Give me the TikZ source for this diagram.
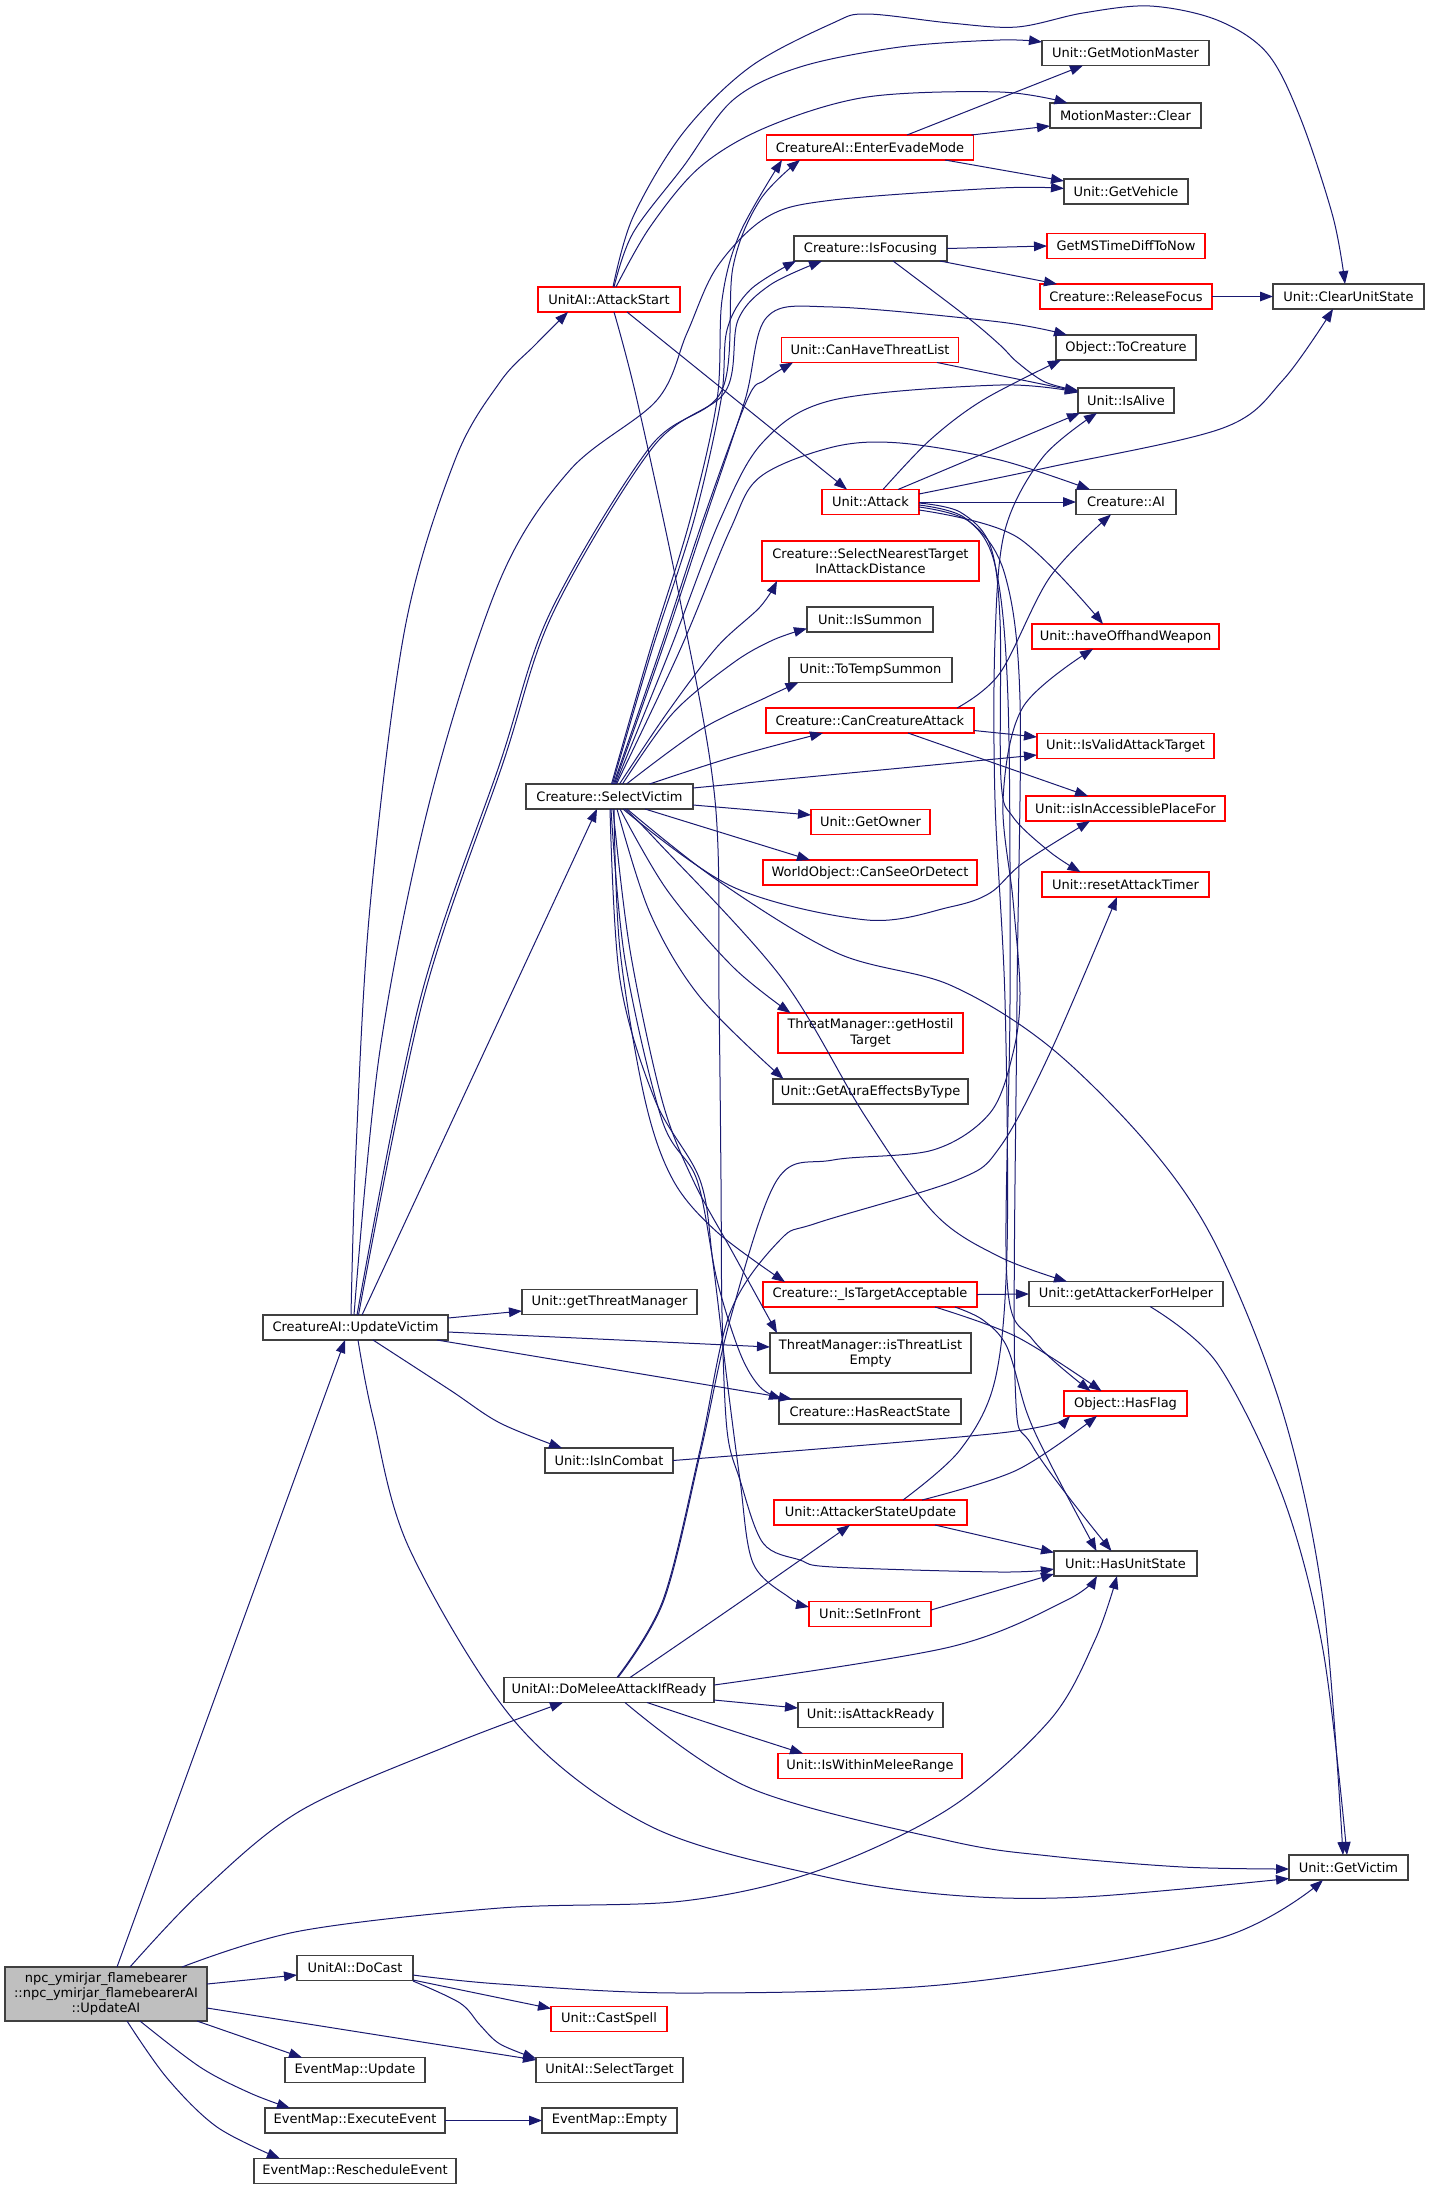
\documentclass[tikz,border=0pt]{standalone}
\usepackage{fontspec}
\setmainfont{DejaVu Sans}
\usetikzlibrary{arrows.meta,calc}
\definecolor{edgecol}{HTML}{191970}
\definecolor{redb}{HTML}{FF0000}
\definecolor{blkb}{HTML}{404040}
\definecolor{grayfill}{HTML}{BFBFBF}
\newcommand\fs{\fontsize{6.5pt}{7.6pt}\selectfont}
\begin{document}
\begin{tikzpicture}[x=0.5pt,y=-0.5pt,
  box/.style={draw=blkb, line width=0.55pt, fill=white, inner sep=0pt, outer sep=0pt,
    minimum height=12.5pt, font=\fs, align=center},
  rbox/.style={box, draw=redb},
  two/.style={minimum height=20pt},
  edge/.style={draw=edgecol, line width=0.5pt, -{Triangle[length=6.5pt,width=4.8pt]}},
  sm/.style={smooth, tension=0.55}]
\useasboundingbox (0,0) rectangle (1429,2190);
% rank 0
\node[box, fill=grayfill, minimum width=101pt, minimum height=27pt] (UAI) at (106,1994) {npc\_ymirjar\_flamebearer\\::npc\_ymirjar\_flamebearerAI\\::UpdateAI};
% rank 1
\node[box, minimum width=92.5pt] (UV) at (355.5,1327.5) {CreatureAI::UpdateVictim};
\node[box, minimum width=58pt] (DC) at (355,1968) {UnitAI::DoCast};
\node[box, minimum width=70pt] (EU) at (355,2070) {EventMap::Update};
\node[box, minimum width=90pt] (EE) at (355,2120.5) {EventMap::ExecuteEvent};
\node[box, minimum width=101pt] (ER) at (355,2171) {EventMap::RescheduleEvent};
% rank 2
\node[rbox, minimum width=71pt] (AS) at (609,299.5) {UnitAI::AttackStart};
\node[box, minimum width=83.5pt] (SV) at (609.5,796.5) {Creature::SelectVictim};
\node[box, minimum width=87.5pt] (GTM) at (609.5,1302) {Unit::getThreatManager};
\node[box, minimum width=64pt] (IIC) at (609,1460.5) {Unit::IsInCombat};
\node[box, minimum width=105pt] (DM) at (609,1690) {UnitAI::DoMeleeAttackIfReady};
\node[rbox, minimum width=58pt] (CS) at (609,2019) {Unit::CastSpell};
\node[box, minimum width=73.5pt] (ST) at (609.5,2070) {UnitAI::SelectTarget};
\node[box, minimum width=67.5pt] (EM) at (609.5,2120.5) {EventMap::Empty};
% rank 3
\node[rbox, minimum width=103.5pt] (EEM) at (870,147.5) {CreatureAI::EnterEvadeMode};
\node[box, minimum width=76.5pt] (IF) at (870.5,248.5) {Creature::IsFocusing};
\node[rbox, minimum width=88.5pt] (CHT) at (870,350) {Unit::CanHaveThreatList};
\node[rbox, minimum width=48.5pt] (AT) at (870.5,502) {Unit::Attack};
\node[rbox, two, minimum width=108.5pt] (SNT) at (870.5,561) {Creature::SelectNearestTarget\\InAttackDistance};
\node[box, minimum width=63pt] (ISm) at (870,619.5) {Unit::IsSummon};
\node[box, minimum width=81.5pt] (TTS) at (870.5,670) {Unit::ToTempSummon};
\node[rbox, minimum width=104pt] (CCA) at (870,720.5) {Creature::CanCreatureAttack};
\node[rbox, minimum width=59.5pt] (GO) at (870.5,822) {Unit::GetOwner};
\node[rbox, minimum width=107pt] (CSD) at (870,872.5) {WorldObject::CanSeeOrDetect};
\node[rbox, two, minimum width=92.5pt] (GHT) at (870.5,1033) {ThreatManager::getHostil\\Target};
\node[box, minimum width=97.5pt] (GAE) at (870.5,1091.5) {Unit::GetAuraEffectsByType};
\node[rbox, minimum width=107pt] (ITA) at (870,1294.5) {Creature::\_IsTargetAcceptable};
\node[box, two, minimum width=100.5pt] (TLE) at (870.5,1353) {ThreatManager::isThreatList\\Empty};
\node[box, minimum width=91pt] (HRS) at (870,1411.5) {Creature::HasReactState};
\node[rbox, minimum width=96.5pt] (ASU) at (870.5,1512.5) {Unit::AttackerStateUpdate};
\node[rbox, minimum width=61pt] (SIF) at (870,1614) {Unit::SetInFront};
\node[box, minimum width=72.5pt] (IAR) at (870.5,1715) {Unit::isAttackReady};
\node[rbox, minimum width=92pt] (IWM) at (870,1766) {Unit::IsWithinMeleeRange};
% rank 4
\node[box, minimum width=83.5pt] (GMM) at (1125.5,53) {Unit::GetMotionMaster};
\node[box, minimum width=75.5pt] (MMC) at (1125.5,115.5) {MotionMaster::Clear};
\node[box, minimum width=62pt] (GV) at (1126,191.5) {Unit::GetVehicle};
\node[rbox, minimum width=79pt] (GMS) at (1126,246) {GetMSTimeDiffToNow};
\node[rbox, minimum width=86pt] (RF) at (1126,296.5) {Creature::ReleaseFocus};
\node[box, minimum width=70pt] (TC) at (1126,347.5) {Object::ToCreature};
\node[box, minimum width=48pt] (IA) at (1126,400.5) {Unit::IsAlive};
\node[box, minimum width=50pt] (CAI) at (1126,502) {Creature::AI};
\node[rbox, minimum width=93.5pt] (HOW) at (1125.5,636.5) {Unit::haveOffhandWeapon};
\node[rbox, minimum width=88.5pt] (IVT) at (1125.5,746) {Unit::IsValidAttackTarget};
\node[rbox, minimum width=99.5pt] (IAP) at (1125.5,808.5) {Unit::isInAccessiblePlaceFor};
\node[rbox, minimum width=83.5pt] (RAT) at (1125.5,884.5) {Unit::resetAttackTimer};
\node[box, minimum width=97pt] (GAH) at (1126,1294) {Unit::getAttackerForHelper};
\node[rbox, minimum width=61.5pt] (HF) at (1125.5,1403.5) {Object::HasFlag};
\node[box, minimum width=71.5pt] (HUS) at (1125.5,1563.5) {Unit::HasUnitState};
% rank 5
\node[box, minimum width=75.5pt] (CUS) at (1348.5,296.5) {Unit::ClearUnitState};
\node[box, minimum width=59.5pt] (GVi) at (1348.5,1867.5) {Unit::GetVictim};

% ---- edges from UpdateAI
\draw[edge] ($(UAI.north)+(11,0)$) -- ($(UV.south)+(-10.5,0)$);
\draw[edge] plot[sm] coordinates {($(UAI.north)+(24,0)$) (200,1893) (300,1811) (450,1745) ($(DM.south)+(-46,0)$)};
\draw[edge] plot[sm] coordinates {($(UAI.north)+(76,0)$) (300,1931) (500,1908) (683,1901) (817,1871) (950,1808) (1050,1720) (1095,1640) ($(HUS.south)+(-8.5,0)$)};
\draw[edge] ($(UAI.east)+(0,-10)$) -- ($(DC.west)+(0,7)$);
\draw[edge] ($(UAI.east)+(0,14)$) -- ($(ST.west)+(0,-10)$);
\draw[edge] ($(UAI.south)+(91,0)$) -- ($(EU.north)+(-53,0)$);
\draw[edge] plot[sm] coordinates {($(UAI.south)+(34,0)$) (200,2067) (250,2093) ($(EE.north)+(-65,0)$)};
\draw[edge] plot[sm] coordinates {($(UAI.south)+(21,0)$) (167,2078) (217,2127) ($(ER.north)+(-75,0)$)};

% ---- edges from UpdateVictim
\draw[edge] plot[sm] coordinates {($(UV.north)+(-4.5,0)$) (356,1150) (370,907) (405,628) (455,460) (500,382) (535,345) ($(AS.south)+(-41,0)$)};
\draw[edge] plot[sm] coordinates {($(UV.north)+(-1.5,0)$) (380,1050) (430,800) (500,580) (570,470) (657,400) (687,333) (717,267) (767,217) (833,200) (1000,188) ($(GV.west)+(0,-3)$)};
\draw[edge] plot[sm] coordinates {($(UV.north)+(1.5,0)$) (420,1000) (500,763) (550,613) (650,447) (722,390) (733,267) (760,200) ($(EEM.south)+(-70,0)$)};
\draw[edge] plot[sm] coordinates {($(UV.north)+(3,0)$) (423,1000) (503,763) (553,613) (653,447) (725,392) (738,320) (770,285) ($(IF.south)+(-48.5,0)$)};
\draw[edge] ($(UV.north)+(6.5,0)$) -- ($(SV.south)+(-12.5,0)$);
\draw[edge] ($(UV.east)+(0,-9.5)$) -- ($(GTM.west)+(0,9)$);
\draw[edge] ($(UV.east)+(0,4.5)$) -- ($(TLE.west)+(0,-6)$);
\draw[edge] ($(UV.south)+(81.5,0)$) -- ($(HRS.north)+(-78,0)$);
\draw[edge] plot[sm] coordinates {($(UV.south)+(17.5,0)$) (450,1390) (500,1423) ($(IIC.north)+(-47,0)$)};
\draw[edge] plot[sm] coordinates {($(UV.south)+(2.5,0)$) (373,1417) (410,1550) (517,1724) (650,1826) (817,1875) (950,1895) (1083,1897) ($(GVi.west)+(0,11)$)};

% ---- edges from AttackStart
\draw[edge] plot[sm] coordinates {($(AS.north)+(5,0)$) (633,233) (683,167) (733,100) (800,67) (900,47) (1000,40) ($(GMM.west)+(0,-11)$)};
\draw[edge] plot[sm] coordinates {($(AS.north)+(7,0)$) (650,227) (700,167) (767,127) (867,97) (1000,92) ($(MMC.north)+(-58,0)$)};
\draw[edge] plot[sm] coordinates {($(AS.north)+(4,0)$) (633,217) (683,133) (750,67) (833,23) (867,14) (950,23) (1017,27) (1083,13) (1150,6) (1217,20) (1267,53) (1300,117) (1333,217) ($(CUS.north)+(-3.5,0)$)};
\draw[edge] ($(AS.south)+(18,0)$) -- ($(AT.north)+(-23.5,0)$);
\draw[edge] plot[sm] coordinates {($(AS.south)+(5,0)$) (637,400) (680,600) (715,800) (719,1000) (721,1180) (722,1313) (727,1430) (740,1480) (763,1543) (800,1560) (833,1567) (1000,1572) ($(HUS.west)+(0,5.5)$)};

% ---- edges from SelectVictim
\draw[edge] plot[sm] coordinates {($(SV.north)+(2,0)$) (650,650) (690,520) (717,400) (722,300) (740,233) ($(EEM.south)+(-88,0)$)};
\draw[edge] plot[sm] coordinates {($(SV.north)+(3,0)$) (652,650) (694,520) (721,400) (727,330) (750,290) ($(IF.south west)+(2,0)$)};
\draw[edge] plot[sm] coordinates {($(SV.north)+(4,0)$) (660,650) (703,520) (747,400) (765,380) ($(CHT.south)+(-77,0)$)};
\draw[edge] plot[sm] coordinates {($(SV.north)+(5,0)$) (662,650) (705,520) (745,400) (767,317) (833,307) (1000,322) ($(TC.north)+(-59,0)$)};
\draw[edge] plot[sm] coordinates {($(SV.north)+(6,0)$) (670,650) (720,520) (763,442) (833,400) (1000,385) ($(IA.west)+(0,-8)$)};
\draw[edge] plot[sm] coordinates {($(SV.north)+(7,0)$) (680,650) (730,530) (760,477) (833,447) (900,443) (1000,460) ($(CAI.north)+(-36,0)$)};
\draw[edge] plot[sm] coordinates {($(SV.north)+(10,0)$) (667,713) (717,647) (760,607) ($(SNT.south)+(-93.5,0)$)};
\draw[edge] plot[sm] coordinates {($(SV.north)+(13,0)$) (673,713) (733,663) (773,640) ($(ISm.west)+(0,9)$)};
\draw[edge] plot[sm] coordinates {($(SV.north)+(17,0)$) (700,730) (767,697) ($(TTS.south)+(-72,0)$)};
\draw[edge] plot[sm] coordinates {($(SV.north)+(40,0)$) (733,757) ($(CCA.south)+(-47,0)$)};
\draw[edge] ($(SV.east)+(0,-8.5)$) -- ($(IVT.west)+(0,9)$);
\draw[edge] ($(SV.east)+(0,8.5)$) -- ($(GO.west)+(0,-7)$);
\draw[edge] ($(SV.south)+(35.5,0)$) -- ($(CSD.north)+(-60,0)$);
\draw[edge] plot[sm] coordinates {($(SV.south)+(13.5,0)$) (733,887) (867,920) (950,907) (990,893) (1023,863) ($(IAP.south)+(-35.5,0)$)};
\draw[edge] plot[sm] coordinates {($(SV.south)+(17.5,0)$) (717,880) (837,953) (950,985) (1050,1047) (1150,1147) (1217,1247) (1283,1413) (1323,1600) ($(GVi.north)+(-5.5,0)$)};
\draw[edge] plot[sm] coordinates {($(SV.south)+(10.5,0)$) (667,890) (733,967) ($(GHT.north)+(-80,0)$)};
\draw[edge] plot[sm] coordinates {($(SV.south)+(7.5,0)$) (650,913) (700,997) ($(GAE.north)+(-87,0)$)};
\draw[edge] plot[sm] coordinates {($(SV.south)+(15.5,0)$) (656,840) (781,977) (865,1116) (935,1214) (1000,1257) ($(GAH.north)+(-59,0)$)};
\draw[edge] plot[sm] coordinates {($(SV.south)+(4.5,0)$) (620,950) (645,1100) (673,1180) (717,1232) ($(ITA.north)+(-85,0)$)};
\draw[edge] plot[sm] coordinates {($(SV.south)+(3.5,0)$) (630,950) (662,1100) (693,1180) (733,1253) ($(TLE.north)+(-93.5,0)$)};
\draw[edge] plot[sm] coordinates {($(SV.south)+(1.5,0)$) (625,960) (662,1120) (697,1180) (717,1280) (740,1353) (760,1387) ($(HRS.north)+(-88,0)$)};
\draw[edge] plot[sm] coordinates {($(SV.south)+(0.5,0)$) (620,980) (655,1100) (700,1180) (713,1263) (727,1380) (740,1480) (753,1563) (790,1598) ($(SIF.west)+(0,-7)$)};

% ---- edges from EnterEvadeMode, IsFocusing, CanHaveThreatList, ReleaseFocus
\draw[edge] ($(EEM.north)+(37,0)$) -- ($(GMM.south)+(-42.5,0)$);
\draw[edge] ($(EEM.north east)+(-2,0)$) -- ($(MMC.west)+(0,10.5)$);
\draw[edge] ($(EEM.south)+(75,0)$) -- ($(GV.west)+(0,-10.5)$);
\draw[edge] (IF.east) -- (GMS.west);
\draw[edge] ($(IF.south)+(69.5,0)$) -- ($(RF.north)+(-69,0)$);
\draw[edge] plot[sm] coordinates {($(IF.south)+(22.5,0)$) (967,317) (1000,345) (1017,362) (1045,382) ($(IA.west)+(0,-10)$)};
\draw[edge] ($(CHT.south)+(67,0)$) -- ($(IA.west)+(0,-9)$);
\draw[edge] (RF.east) -- (CUS.west);

% ---- edges from Attack
\draw[edge] plot[sm] coordinates {($(AT.north)+(12.5,0)$) (930,440) (983,400) ($(TC.south west)+(5,0)$)};
\draw[edge] ($(AT.north)+(27.5,0)$) -- ($(IA.south west)+(2,0)$);
\draw[edge] plot[sm] coordinates {($(AT.east)+(0,-8)$) (1050,467) (1223,428) (1283,380) ($(CUS.south)+(-15.5,0)$)};
\draw[edge] (AT.east) -- (CAI.west);
\draw[edge] plot[sm] coordinates {($(AT.east)+(0,8)$) (1017,537) ($(HOW.north)+(-22.5,0)$)};
\draw[edge] plot[sm] coordinates {($(AT.east)+(0,1)$) (960,512) (990,545) (1000,620) (1001,780) (1013,817) (1050,852) ($(RAT.north)+(-45,0)$)};
\draw[edge] plot[sm] coordinates {($(AT.east)+(0,3)$) (965,518) (995,565) (1008,700) (1010,1000) (1007,1280) (1033,1340) ($(HF.north)+(-35,0)$)};
\draw[edge] plot[sm] coordinates {($(AT.east)+(0,5)$) (970,522) (1005,575) (1020,700) (1017,1000) (1015,1380) (1033,1447) ($(HUS.north)+(-14,0)$)};

% ---- edges from CanCreatureAttack
\draw[edge] plot[sm] coordinates {($(CCA.north)+(87,0)$) (1000,673) (1050,577) ($(CAI.south)+(-15,0)$)};
\draw[edge] ($(CCA.east)+(0,10)$) -- ($(IVT.west)+(0,-9)$);
\draw[edge] ($(CCA.south)+(38,0)$) -- ($(IAP.north)+(-37.5,0)$);

% ---- edges from _IsTargetAcceptable, getAttackerForHelper, IsInCombat
\draw[edge] (ITA.east) -- (GAH.west);
\draw[edge] plot[sm] coordinates {($(ITA.south)+(65,0)$) (1017,1337) ($(HF.north)+(-24,0)$)};
\draw[edge] plot[sm] coordinates {($(ITA.south)+(85,0)$) (983,1320) (1007,1347) (1027,1413) (1050,1463) ($(HUS.north)+(-29,0)$)};
\draw[edge] plot[sm] coordinates {($(GAH.south)+(24,0)$) (1217,1363) (1283,1497) (1323,1650) ($(GVi.north)+(-1.5,0)$)};
\draw[edge] plot[sm] coordinates {(IIC.east) (1000,1433) ($(HF.south west)+(6,0)$)};

% ---- edges from AttackerStateUpdate, SetInFront
\draw[edge] plot[sm] coordinates {($(ASU.north)+(32.5,0)$) (960,1450) (995,1380) (1007,1250) (1005,1000) (995,800) (995,640) (1005,530) (1043,457) ($(IA.south)+(-29,0)$)};
\draw[edge] plot[sm] coordinates {($(ASU.north)+(51.5,0)$) (1017,1470) ($(HF.south)+(-28.5,0)$)};
\draw[edge] ($(ASU.south)+(64.5,0)$) -- ($(HUS.west)+(0,-11)$);
\draw[edge] ($(SIF.east)+(0,-4)$) -- ($(HUS.west)+(0,10.5)$);

% ---- edges from DoMeleeAttackIfReady
\draw[edge] plot[sm] coordinates {($(DM.east)+(0,-5)$) (950,1647) (1067,1600) ($(HUS.south)+(-28.5,0)$)};
\draw[edge] ($(DM.east)+(0,10)$) -- ($(IAR.west)+(0,-7)$);
\draw[edge] plot[sm] coordinates {($(DM.south)+(38,0)$) (730,1730) ($(IWM.north)+(-67,0)$)};
\draw[edge] plot[sm] coordinates {($(DM.north)+(21,0)$) (743,1600) ($(ASU.south)+(-20.5,0)$)};
\draw[edge] plot[sm] coordinates {($(DM.south)+(16,0)$) (750,1788) (950,1841) (1050,1856) (1183,1867) ($(GVi.west)+(0,1.5)$)};
\draw[edge] plot[sm] coordinates {($(DM.north)+(8,0)$) (663,1600) (700,1450) (730,1313) (780,1240) (817,1223) (957,1180) (1000,1147) (1050,1053) ($(RAT.south)+(-8.5,0)$)};
\draw[edge] plot[sm] coordinates {($(DM.north)+(9,0)$) (664,1600) (701,1450) (730,1320) (777,1180) (833,1160) (933,1150) (990,1113) (1013,1053) (1020,993) (1013,900) (1003,800) (1023,707) ($(HOW.south)+(-32.5,0)$)};

% ---- edges from DoCast, ExecuteEvent
\draw[edge] plot[sm] coordinates {($(DC.east)+(0,7)$) (500,1984) (683,1993) (950,1984) (1217,1939) ($(GVi.south)+(-25.5,0)$)};
\draw[edge] plot[sm] coordinates {($(DC.east)+(0,12)$) (500,1998) ($(CS.north west)+(0,2)$)};
\draw[edge] plot[sm] coordinates {($(DC.east)+(0,13)$) (460,2003) (480,2025) (500,2044) ($(ST.north west)+(0,1)$)};
\draw[edge] (EE.east) -- (EM.west);
\end{tikzpicture}
\end{document}
